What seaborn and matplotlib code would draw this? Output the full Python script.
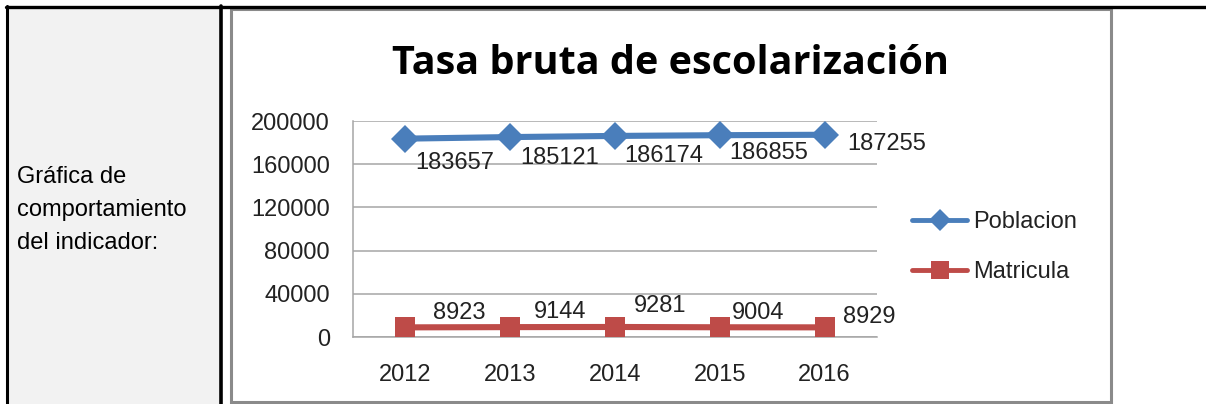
import matplotlib
matplotlib.use("Agg")
import matplotlib.pyplot as plt
import seaborn as sns
import pandas as pd
from matplotlib.patches import Rectangle
from matplotlib.lines import Line2D

# ---- data ----
years = ["2012", "2013", "2014", "2015", "2016"]
poblacion = [183657, 185121, 186174, 186855, 187255]
matricula = [8923, 9144, 9281, 9004, 8929]
series_names = ["Poblacion", "Matricula"]
y_ticks = [0, 40000, 80000, 120000, 160000, 200000]
title = "Tasa bruta de escolarización"
row_label = "Gráfica de\ncomportamiento\ndel indicador:"

# label offsets in pixels (dx right, dy down)
pob_offsets = [(49, 24), (49, 21), (49, 20), (49, 18), (62, 9)]
mat_offsets = [(54, -14), (50, -15), (45, -21), (38, -14), (45, -10)]

W, H = 1206, 404
sns.set_theme(style="white")
plt.rcParams["font.family"] = ["Liberation Sans", "DejaVu Sans"]

fig = plt.figure(figsize=(W / 100, H / 100), dpi=100)
fig.patch.set_facecolor("white")

def fx(px):
    return px / W

def fy(py):
    return 1 - py / H

# ---- table structure ----
fig.patches.append(Rectangle((fx(7), fy(404)), fx(221) - fx(7), fy(7) - fy(404),
                             transform=fig.transFigure, facecolor="#f2f2f2",
                             edgecolor="none", zorder=0))
for x0 in (7, 220.5):
    fig.lines.append(Line2D([fx(x0), fx(x0)], [fy(6), fy(404)], transform=fig.transFigure,
                            color="black", linewidth=2.6 if x0 > 100 else 2.2))
fig.lines.append(Line2D([fx(6), fx(1206)], [fy(6.5), fy(6.5)], transform=fig.transFigure,
                        color="black", linewidth=2.4))
fig.patches.append(Rectangle((fx(231), fy(402)), fx(1111) - fx(231), fy(9) - fy(402),
                             transform=fig.transFigure, facecolor="white",
                             edgecolor="#8a8a8a", linewidth=2.2, zorder=1))

fig.text(fx(17), fy(210), row_label, fontsize=17, color="black",
         ha="left", va="center", linespacing=1.63)

# ---- chart ----
df = pd.DataFrame({
    "idx": list(range(len(years))) * 2,
    "valor": poblacion + matricula,
    "serie": [series_names[0]] * len(years) + [series_names[1]] * len(years),
})

ax = fig.add_axes([fx(353), fy(337), fx(877) - fx(353), fy(121) - fy(337)])
ax.set_zorder(5)
ax.set_facecolor("none")
colors = ["#4a7ebb", "#be4b48"]
sns.lineplot(data=df, x="idx", y="valor", hue="serie", style="serie",
             markers=["D", "s"], dashes=False, palette=colors, ax=ax,
             linewidth=4.4, markersize=14.5, markeredgewidth=0, legend=False,
             zorder=3, clip_on=False)
for ln in ax.lines:
    if ln.get_marker() == "s":
        ln.set_markersize(15)

ax.set_xlim(-0.5, len(years) - 0.5)
ax.set_ylim(0, 200000)
ax.set_yticks(y_ticks)
ax.set_yticklabels([str(v) for v in y_ticks])
ax.set_xticks(range(len(years)))
ax.set_xticklabels(years)
ax.tick_params(axis="both", labelsize=17, colors="#222222", length=0)
ax.tick_params(axis="y", pad=16.5)
ax.tick_params(axis="x", pad=19.5)
ax.set_xlabel("")
ax.set_ylabel("")
ax.grid(axis="y", color="#a6a6a6", linewidth=1.1)
ax.grid(axis="x", visible=False)
for s in ("top", "right"):
    ax.spines[s].set_visible(False)
for s in ("left", "bottom"):
    ax.spines[s].set_color("#a6a6a6")
    ax.spines[s].set_linewidth(1.1)

for i, v in enumerate(poblacion):
    dx, dy = pob_offsets[i]
    ax.annotate(str(v), (i, v), xytext=(dx * 0.72, -dy * 0.72), textcoords="offset points",
                ha="center", va="center", fontsize=17, color="#222222", zorder=5)
for i, v in enumerate(matricula):
    dx, dy = mat_offsets[i]
    ax.annotate(str(v), (i, v), xytext=(dx * 0.72, -dy * 0.72), textcoords="offset points",
                ha="center", va="center", fontsize=17, color="#222222", zorder=5)

fig.text(fx(670), fy(63), title, fontsize=28.5, fontweight="bold", color="black",
         ha="center", va="center", family=["Open Sans", "DejaVu Sans"])

# legend
handles = [Line2D([], [], color=colors[0], marker="D", markersize=11, linewidth=3.5, markeredgewidth=0),
           Line2D([], [], color=colors[1], marker="s", markersize=13, linewidth=3.5, markeredgewidth=0)]
fig.legend(handles, series_names, loc="center left", bbox_to_anchor=(fx(912), fy(247)),
           frameon=False, fontsize=17, handlelength=2.35, labelspacing=1.2, handletextpad=0.25,
           borderpad=0, borderaxespad=0, labelcolor="#222222")

fig.savefig("out.png", dpi=100)
